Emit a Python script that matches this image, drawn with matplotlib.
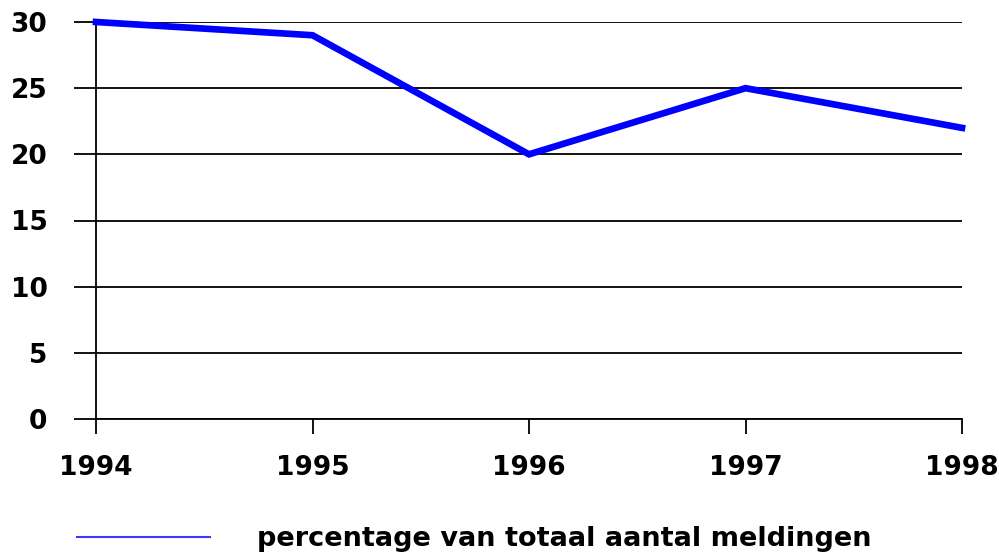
import matplotlib
matplotlib.use("Agg")
import matplotlib.pyplot as plt
from matplotlib.lines import Line2D

# data
years = [1994, 1995, 1996, 1997, 1998]
percentage = [30, 29, 20, 25, 22]
y_ticks = [0, 5, 10, 15, 20, 25, 30]
legend_label = "percentage van totaal aantal meldingen"

plt.rcParams["font.family"] = ["DejaVu Sans"]
plt.rcParams["font.weight"] = "bold"

fig = plt.figure(figsize=(9.99, 5.52), dpi=100)
ax = fig.add_axes([96 / 999, 1 - 419 / 552, (962 - 96) / 999, (419 - 22) / 552])

ax.plot(years, percentage, color="#0000ff", linewidth=4.8, clip_on=False,
        solid_joinstyle="miter", zorder=3)

ax.set_xlim(1994, 1998)
ax.set_ylim(0, 30)
ax.set_xticks(years)
ax.set_yticks(y_ticks)
ax.set_xticklabels([str(y) for y in years], fontsize=19, fontweight="bold")
ax.set_yticklabels([str(v) for v in y_ticks], fontsize=19, fontweight="bold")

ax.grid(axis="y", color="black", linewidth=1.3)
ax.set_axisbelow(True)
for s in ["top", "right"]:
    ax.spines[s].set_visible(False)
ax.spines["left"].set_linewidth(1.3)
ax.spines["bottom"].set_linewidth(1.3)

ax.tick_params(axis="y", length=16, width=1.3, pad=19, direction="out")
ax.tick_params(axis="x", length=11, width=1.3, pad=15, direction="out")

# legend below the chart
handle = Line2D([0], [0], color="#3a3aff", linewidth=1.5)
fig.legend([handle], [legend_label], loc="center left",
           bbox_to_anchor=(77 / 999, 1 - 539 / 552), frameon=False,
           prop={"size": 19.5, "weight": "bold"}, handlelength=4.9,
           handletextpad=1.75, borderpad=0, borderaxespad=0)

fig.savefig("out.png", dpi=100)
